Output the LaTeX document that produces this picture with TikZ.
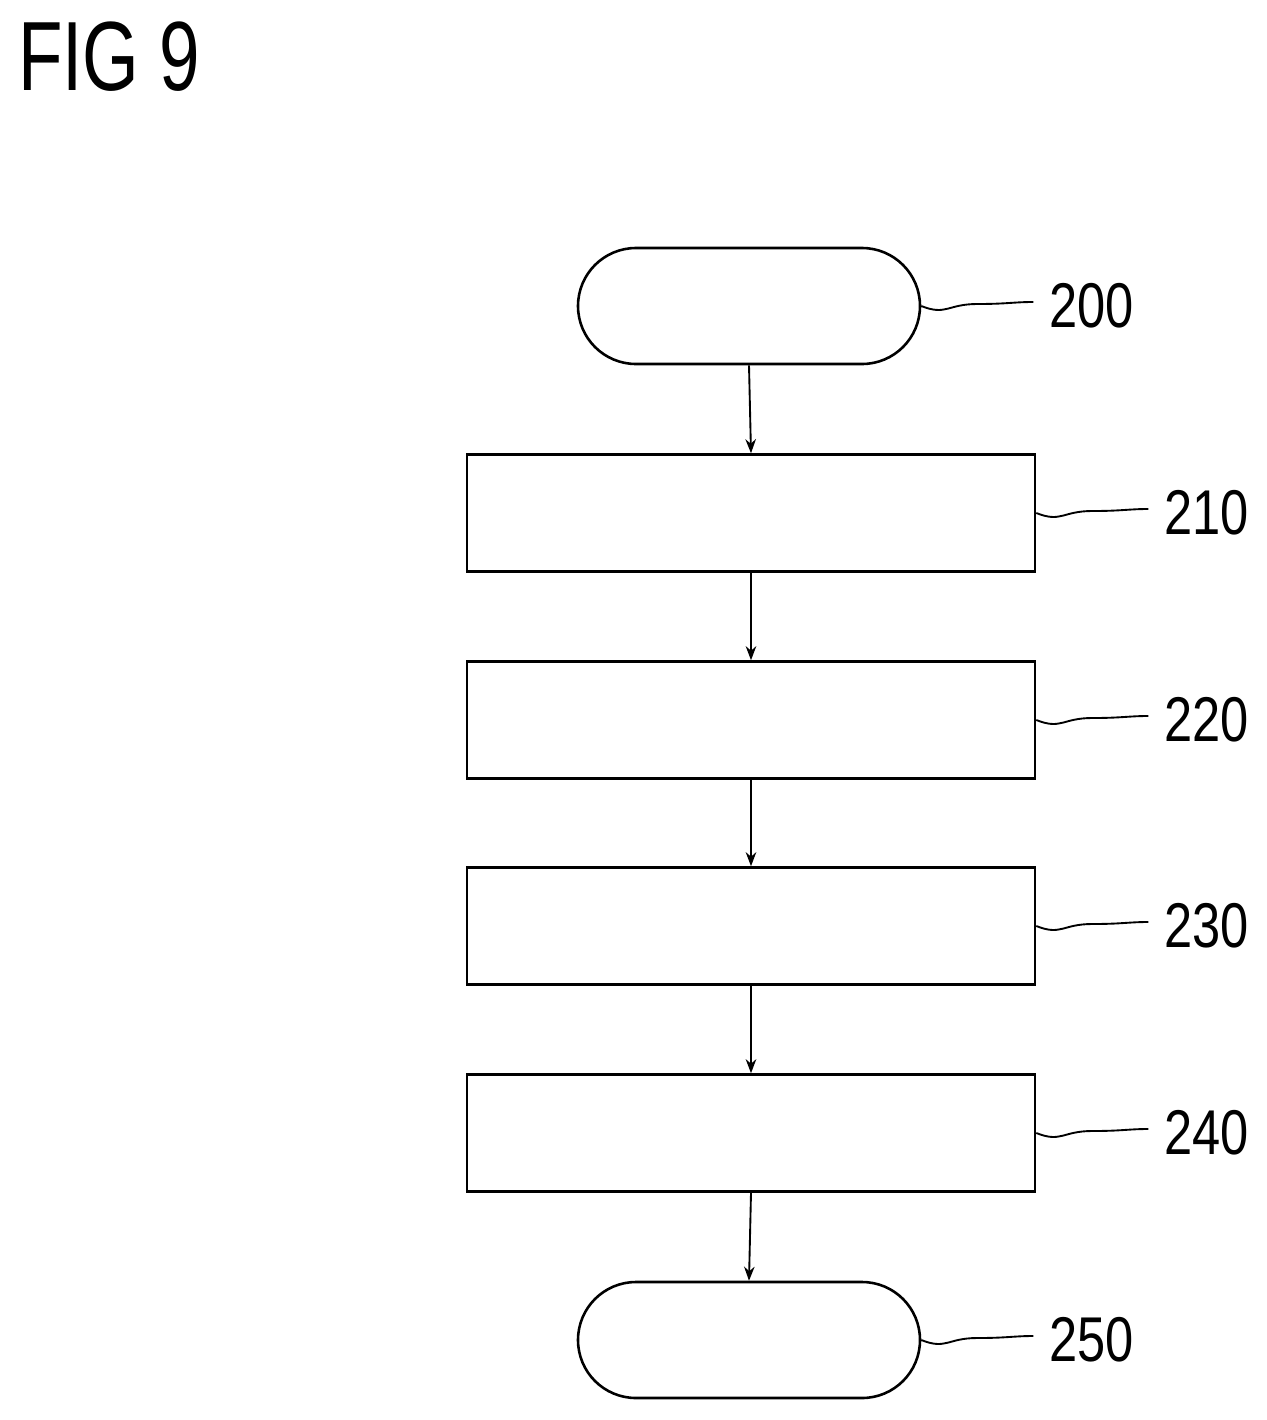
\documentclass[tikz,border=0pt]{standalone}
\usepackage{fontspec}
\setmainfont{Liberation Sans}
\usetikzlibrary{arrows.meta,calc}
\begin{document}
\begin{tikzpicture}[x=0.03cm,y=-0.03cm,
  box/.style={draw,line width=2.2pt,minimum width=568*0.03cm,minimum height=117*0.03cm,inner sep=0},
  term/.style={draw,line width=2.2pt,rounded corners=58*0.03cm,minimum width=342*0.03cm,minimum height=116*0.03cm,inner sep=0},
  arr/.style={line width=1.6pt,-{Stealth[length=12pt,width=9pt]}},
  sq/.style={line width=1.6pt},
  lab/.style={font=\fontsize{54}{54}\selectfont,xscale=0.8,anchor=west,inner sep=0}]
\useasboundingbox (0,0) rectangle (1267,1420);
\node[font=\fontsize{84}{84}\selectfont,xscale=0.74,anchor=north west,inner sep=0] (fig) at (18,22) {FIG 9};
\node[term] (s200) at (749,306) {};
\node[box] (s210) at (751,513) {};
\node[box] (s220) at (751,720) {};
\node[box] (s230) at (751,926) {};
\node[box] (s240) at (751,1133) {};
\node[term] (s250) at (749,1340) {};
\foreach \a/\b in {s200/s210,s210/s220,s220/s230,s230/s240,s240/s250}
  \draw[arr] (\a.south) -- (\b.north);
\foreach \n in {200,210,220,230,240,250}{
  \path (s\n.east) ++(112,-4) coordinate (c\n);
  \draw[sq] (s\n.east) .. controls +(25,10) and +(-30,0) .. ($(s\n.east)!0.5!(c\n)$) .. controls +(30,0) and +(-20,0) .. (c\n);
  \node[lab] (l\n) at ([xshift=16*0.03cm,yshift=-4*0.03cm]c\n) {\n};
}
\end{tikzpicture}
\end{document}
